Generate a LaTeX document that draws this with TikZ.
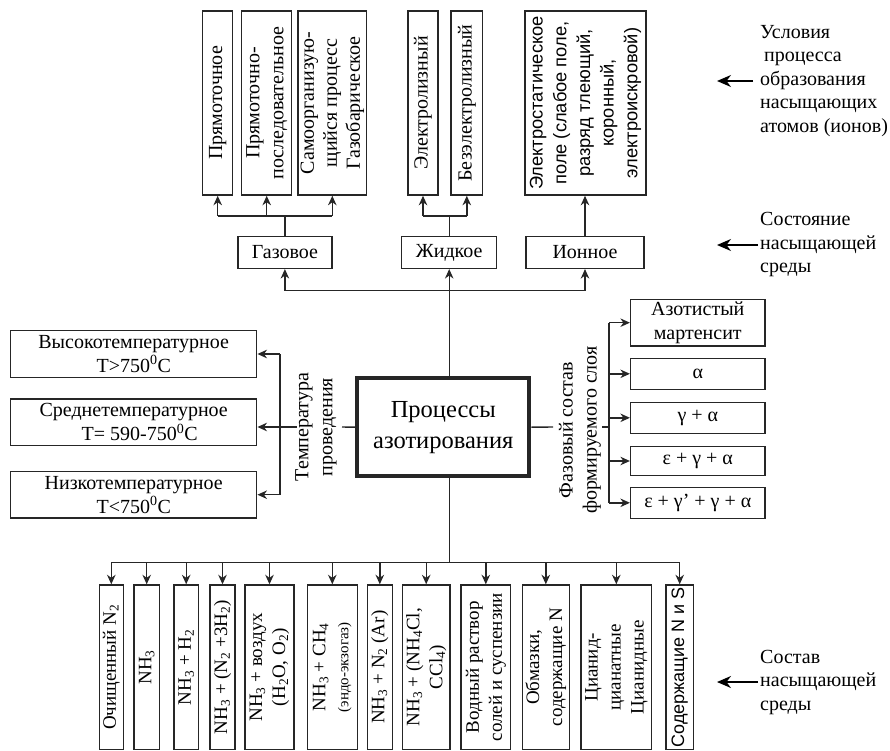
\documentclass[tikz,border=0pt]{standalone}
\usepackage{fontspec}
\setmainfont{Liberation Serif}
\newfontfamily\sansf{Liberation Sans}
\usetikzlibrary{arrows.meta}
\definecolor{lc}{HTML}{262626}
\begin{document}
\begin{tikzpicture}[x=1pt,y=-1pt,
 box/.style={draw=lc, line width=1.5pt, inner sep=0pt, align=center, font=\fontsize{20}{24}\selectfont, text=black},
 vbox/.style={box, rotate=90},
 bbox/.style={box, rotate=90, minimum width=164.3pt, font=\fontsize{19}{23}\selectfont},
 wire/.style={draw=lc, line width=1.4pt},
 arr/.style={draw=lc, line width=1.4pt, -{Stealth[length=9.5pt,width=8.5pt,inset=3pt]}},
 bigarr/.style={draw=black, line width=1.6pt, -{Stealth[length=14pt,width=12pt,inset=4.5pt]}},
 lab/.style={font=\fontsize{20}{23.5}\selectfont, align=left, anchor=west, inner sep=0pt},
 rlab/.style={rotate=90, align=center, inner sep=0pt, font=\fontsize{20}{24}\selectfont}
]
\useasboundingbox (0,0) rectangle (890,751);

% main box
\node[box, line width=4pt, minimum width=172pt, minimum height=98pt, font=\fontsize{24.5}{31}\selectfont] (main) at (443.3,427.2) {Процессы\\азотирования};

% state boxes
\node[box, minimum width=93.7pt, minimum height=31.6pt] (gaz) at (284.9,252.5) {Газовое};
\node[box, minimum width=95pt, minimum height=31.6pt] (zhid) at (449.2,252.5) {Жидкое};
\node[box, minimum width=118pt, minimum height=31.6pt] (ion) at (585,252.5) {Ионное};

% top vertical boxes
\node[vbox, minimum width=184pt, minimum height=30pt] (t1) at (217.7,103) {Прямоточное};
\node[vbox, minimum width=184pt, minimum height=50pt] (t2) at (266.7,103) {Прямоточно-\\последовательное};
\node[vbox, minimum width=184pt, minimum height=68.7pt, font=\fontsize{20}{23}\selectfont] (t3) at (332.3,103) {Самоорганизую-\\щийся процесс\\Газобарическое};
\node[vbox, minimum width=184pt, minimum height=30pt] (t4) at (423,103) {Электролизный};
\node[vbox, minimum width=184pt, minimum height=31.7pt] (t5) at (466.8,103) {Безэлектролизный};
\node[vbox, minimum width=184pt, minimum height=121pt, font=\sansf\fontsize{18.3}{23.7}\selectfont] (t6) at (585.5,103) {Электростатическое\\поле (слабое поле,\\разряд тлеющий,\\коронный,\\электроискровой)};

% top buses
\coordinate (busA) at (0,216);
\coordinate (busB) at (0,290.7);
\draw[wire] (gaz.north) -- (gaz.north |- busA);
\draw[wire] (t1.west |- busA) -- (t3.west |- busA);
\foreach \n in {t1,t2,t3} \draw[arr] (\n.west |- busA) -- (\n.west);
\draw[wire] (zhid.north) -- (zhid.north |- busA);
\draw[wire] (t4.west |- busA) -- (t5.west |- busA);
\foreach \n in {t4,t5} \draw[arr] (\n.west |- busA) -- (\n.west);
\draw[arr] (ion.north) -- (ion.north |- t6.west);

\draw[wire] (main.north -| zhid.south) -- (zhid.south |- busB);
\draw[wire] (gaz.south |- busB) -- (ion.south |- busB);
\foreach \n in {gaz,zhid,ion} \draw[arr] (\n.south |- busB) -- (\n.south);

% left side
\node[box, minimum width=246pt, minimum height=46.7pt] (vys) at (133.7,354) {Высокотемпературное\\T>750\textsuperscript{0}C};
\node[box, minimum width=246pt, minimum height=46.7pt] (sred) at (133.7,422.3) {Среднетемпературное\\\hspace*{12pt}T= 590-750\textsuperscript{0}C};
\node[box, minimum width=246pt, minimum height=46.7pt] (niz) at (133.7,494.7) {Низкотемпературное\\T<750\textsuperscript{0}C};
\node[rlab] (temp) at (316,427) {Температура\\проведения};
\coordinate (tR) at (342,427);
\coordinate (tL) at (297,427);
\coordinate (tB) at (280,427);
\draw[wire] (main.west) -- (tR);
\draw[wire] (tL) -- (tB);
\draw[wire] (tB |- vys.east) -- (tB |- niz.east);
\draw[arr] (tB |- vys.east) -- (vys.east);
\draw[arr] (tB) -- (sred.east |- tB);
\draw[arr] (tB |- niz.east) -- (niz.east);

% right side
\node[box, minimum width=134.3pt, minimum height=46.7pt] (az) at (697.8,322.7) {Азотистый\\мартенсит};
\node[box, minimum width=134.3pt, minimum height=31pt] (p2) at (697.8,373.8) {α};
\node[box, minimum width=134.3pt, minimum height=31pt] (p3) at (697.8,417.8) {γ + α};
\node[box, minimum width=134.3pt, minimum height=29pt] (p4) at (697.8,461) {ε + γ + α};
\node[box, minimum width=134.3pt, minimum height=31pt] (p5) at (697.8,502.8) {ε + γ' + γ + α};
\node[rlab] (faz) at (580,430) {Фазовый состав\\формируемого слоя};
\coordinate (fL) at (553,427);
\coordinate (fR) at (602,427);
\coordinate (fB) at (609,427);
\draw[wire] (main.east) -- (fL);
\draw[wire] (fR) -- (fB);
\draw[wire] (fB |- az.west) -- (fB |- p5.west);
\foreach \n in {az,p2,p3,p4,p5} \draw[arr] (fB |- \n.west) -- (\n.west);

% bottom boxes
\node[bbox, minimum height=24pt] (c1) at (111.3,667.2) {Очищенный N\textsubscript{2}};
\node[bbox, minimum height=25.3pt] (c2) at (146.7,667.2) {NH\textsubscript{3}};
\node[bbox, minimum height=24.3pt] (c3) at (186.2,667.2) {NH\textsubscript{3} + H\textsubscript{2}};
\node[bbox, minimum height=25pt] (c4) at (222.5,667.2) {NH\textsubscript{3} + (N\textsubscript{2} +3H\textsubscript{2})};
\node[bbox, minimum height=49pt] (c5) at (269.5,667.2) {NH\textsubscript{3} + воздух\\(H\textsubscript{2}O, O\textsubscript{2})};
\node[bbox, minimum height=50pt] (c6) at (332.3,667.2) {NH\textsubscript{3} + CH\textsubscript{4}\\{\fontsize{15}{18}\selectfont(эндо-экзогаз)}};
\node[bbox, minimum height=25pt] (c7) at (379.8,667.2) {NH\textsubscript{3} + N\textsubscript{2} (Ar)};
\node[bbox, minimum height=47.7pt] (c8) at (426.2,667.2) {NH\textsubscript{3} + (NH\textsubscript{4}Cl,\\CCl\textsubscript{4})};
\node[bbox, minimum height=49.7pt] (c9) at (485.8,667.2) {Водный раствор\\солей и суспензии};
\node[bbox, minimum height=47pt] (c10) at (545.8,667.2) {Обмазки,\\содержащие N};
\node[bbox, minimum height=70.7pt] (c11) at (616.3,667.2) {Цианид-\\цианатные\\Цианидные};
\node[bbox, minimum height=27.3pt, font=\sansf\fontsize{18}{22}\selectfont] (c12) at (679.7,667.2) {Содержащие N и S};
\coordinate (busC) at (0,562.3);
\draw[wire] (main.south -| zhid.south) -- (zhid.south |- busC);
\draw[wire] (c1.east |- busC) -- (c12.east |- busC);
\foreach \n in {c1,c2,c3,c4,c5,c6,c7,c8,c9,c10,c11,c12} \draw[arr] (\n.east |- busC) -- (\n.east);

% right-hand labels
\node[lab] (l1) at (760,81) {Условия\\\hspace*{4pt}процесса\\образования\\насыщающих\\атомов (ионов)};
\node[lab] (l2) at (760,245) {Состояние\\насыщающей\\среды};
\node[lab] (l3) at (760,682) {Состав\\насыщающей\\среды};
\coordinate (a1) at (717,81);
\coordinate (a2) at (717,245);
\coordinate (a3) at (717,682);
\draw[bigarr, shorten <=7pt] (l1.west) -- (a1);
\draw[bigarr, shorten <=2pt] (l2.west) -- (a2);
\draw[bigarr, shorten <=2pt] (l3.west) -- (a3);
\end{tikzpicture}
\end{document}
